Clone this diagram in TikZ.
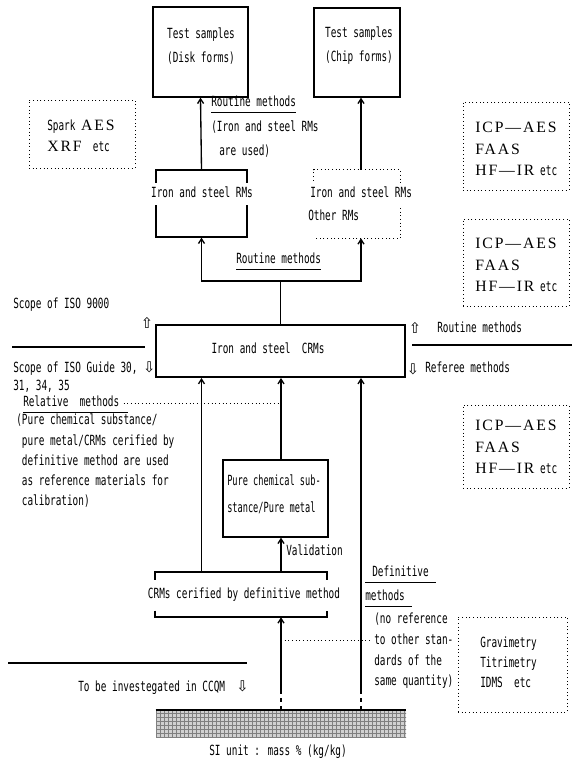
\documentclass[tikz,border=0pt]{standalone}
\usepackage{fontspec}
\usetikzlibrary{fit,patterns,arrows.meta}
\newfontfamily\smf{DejaVu Sans Mono}[FakeStretch=0.67]
\newfontfamily\bigf{Liberation Serif}[LetterSpace=12]
\newfontfamily\symf{DejaVu Sans}
\newcommand\smfont{\smf\fontsize{10.5pt}{15.2pt}\selectfont}
\newcommand\bigfont{\bigf\fontsize{11.8pt}{16.1pt}\selectfont}
\newcommand\hup{{\symf\fontsize{11pt}{12pt}\selectfont ⇧}}
\newcommand\hdn{{\symf\fontsize{11pt}{12pt}\selectfont ⇩}}
\newcommand\nrw[1]{\scalebox{0.92}[1]{#1}}
\begin{document}
\begin{tikzpicture}[x=0.75pt,y=-0.75pt,
  sm/.style={font=\smfont, inner sep=0pt, text height=8pt, text depth=2.2pt},
  smm/.style={font=\smfont, inner sep=0pt, align=left},
  bigm/.style={font=\bigfont, inner sep=0pt, align=left, anchor=west},
  bx/.style={draw, line width=1pt, inner sep=0pt},
  dbx/.style={draw, dotted, line width=0.75pt, inner sep=0pt},
  arr/.style={line width=1pt, -{Straight Barb[length=3.5pt,width=4.5pt]}},
  ln/.style={line width=1pt},
  uln/.style={line width=0.75pt},
  dsh/.style={line width=1pt, dash pattern=on 3pt off 3pt},
  dt/.style={dotted, line width=0.75pt},
  sym/.style={inner sep=0pt}
]
\useasboundingbox (0,0) rectangle (572,769);

% ---------- top test sample boxes
\node[bx, fit={(153,7) (248,97)}] (disk) {};
\node[smm, align=center, font=\smf\fontsize{10.5pt}{18pt}\selectfont] (diskt) at (201,46) {Test samples\\(Disk forms)};
\node[bx, fit={(314,8) (400,97)}] (chip) {};
\node[smm, align=center, font=\smf\fontsize{10.5pt}{18pt}\selectfont] (chipt) at (359,46) {Test samples\\(Chip forms)};

% ---------- dotted method boxes
\node[dbx, fit={(29,100) (135,168)}] (spark) {};
\node[sm, anchor=west] (spark1) at (47,127) {Spark {\bigfont AES}};
\node[sm, anchor=west] (spark2) at (47,148) {{\bigfont XRF}\ \ etc};

\node[dbx, fit={(463,102) (569,190)}] (icp1) {};
\node[bigm] (icp1t) at (475,149) {ICP—AES\\FAAS\\HF—IR {\smfont etc}};
\node[dbx, fit={(463,219) (569,306)}] (icp2) {};
\node[bigm] (icp2t) at (475,265) {ICP—AES\\FAAS\\HF—IR {\smfont etc}};
\node[dbx, fit={(463,405) (569,488)}] (icp3) {};
\node[bigm] (icp3t) at (475,447) {ICP—AES\\FAAS\\HF—IR {\smfont etc}};

\node[dbx, fit={(458,617) (567,712)}] (grav) {};
\node[smm, anchor=west, font=\smf\fontsize{10.5pt}{15pt}\selectfont] (gravt) at (480,662) {Gravimetry\\Titrimetry\\IDMS\ \ etc};

% ---------- RMs boxes
\node[bx, fit={(156,170) (247,237)}] (rmL) {};
\node[sm, fill=white, inner ysep=3pt] (rmLt) at (202,194) {Iron and steel RMs};
\node[inner sep=0pt, fit={(314,170) (400,238)}] (rmR) {};
\draw[dt] ([yshift=-11pt]rmR.north west) -- (rmR.north west) -- (rmR.north east) -- (rmR.south east) -- (rmR.south west);
\node[sm, fill=white, anchor=west, inner ysep=3pt] (rmRt1) at (310,194) {Iron and steel RMs};
\node[sm, fill=white, anchor=west, inner ysep=3pt] (rmRt2) at (308,217) {Other RMs};

\coordinate (cx) at (361,0);
\coordinate (mx) at (281,0);
\draw[arr] (rmL.north) -- (disk.south);
\draw[arr] (rmR.north -| cx) -- (chip.south -| cx);

\node[sm, anchor=west] (rt1) at (211,103) {Routine methods};
\draw[uln] ([yshift=-1.7pt]rt1.south west) -- ([yshift=-1.7pt]rt1.south east);
\node[sm, anchor=west] (iu1) at (211,128) {(Iron and steel RMs};
\node[sm, anchor=west] (iu2) at (219,152) {are used)};

% ---------- CRMs box and branch
\node[draw, line width=1.5pt, inner sep=0pt, fit={(156,325) (405,377)}] (crm) {};
\node[sm] (crmt) at (268,350) {Iron and steel\ \ CRMs};

\coordinate (br) at (281,281);
\draw[ln] (crm.north) -- (crm.north |- br);
\draw[arr] (crm.north |- br) -| (rmL.south);
\draw[arr] (crm.north |- br) -| (rmR.south -| cx);
\node[sm, anchor=west] (rt2) at (236,260) {Routine methods};
\draw[uln] ([yshift=-1.7pt]rt2.south west) -- ([yshift=-1.7pt]rt2.south east);

% ---------- scope labels
\node[sm, anchor=west] (sc1) at (13,305) {Scope of ISO 9000};
\node[sym] (sc1a) at (147,323) {\hup};
\draw[ln] (12,347) -- (145,347);
\node[sm, anchor=west] (sc2) at (13,369) {Scope of ISO Guide 30, \hdn};
\node[sm, anchor=west] (sc3) at (13,387) {31, 34, 35};

\node[sym] (rua) at (415,328) {\hup};
\node[sm, anchor=west] (rut) at (437,329) {Routine methods};
\draw[ln] (412,345) -- (572,345);
\node[sym] (rfa) at (413,369) {\hdn};
\node[sm, anchor=west] (rft) at (425,369) {Referee methods};

% ---------- relative methods
\node[sm, anchor=west] (rel) at (23,403) {Relative\ \ methods};
\draw[uln] ([yshift=-1.7pt]rel.south west) -- ([yshift=-1.7pt,xshift=6pt]rel.south east);
\node[smm, anchor=west, font=\smf\fontsize{10.5pt}{15.2pt}\selectfont] (para) at (16,461) {(Pure chemical substance/\\\ pure metal/CRMs cerified by\\\ definitive method are used\\\ as reference materials for\\\ calibration)};

% ---------- pure chemical, certified
\node[bx, fit={(223,460) (328,537)}] (pure) {};
\node[smm, anchor=west, font=\smf\fontsize{10.5pt}{20pt}\selectfont] (puret) at (227,494) {\nrw{Pure chemical sub-}\\\nrw{stance/Pure metal}};

\node[inner sep=0pt, fit={(155,572) (327,617)}] (cert) {};
\draw[line width=1.5pt] ([yshift=-6pt]cert.north west) -- (cert.north west) -- (cert.north east) -- ([yshift=-6pt]cert.north east);
\draw[line width=1.5pt] ([yshift=5pt]cert.south west) -- (cert.south west) -- (cert.south east) -- ([yshift=5pt]cert.south east);
\node[sm] (certt) at (244,595) {CRMs cerified by definitive method};

\node[sm, anchor=west] (val) at (286,552) {Validation};

% ---------- hatched SI base
\node[inner sep=0pt, fit={(156,710) (406,737)}, fill=black!18, postaction={pattern=grid, pattern color=black!50}] (si) {};
\draw[line width=1.2pt] (si.north west) -- (si.north east);
\node[sm] (sit) at (278,752) {SI unit : mass \% (kg/kg)};

% ---------- vertical connectors into CRMs
\draw[arr] (cert.north -| rmL.south) -- (crm.south -| rmL.south);
\draw[arr] (pure.north -| mx) -- (crm.south -| mx);
\coordinate (rd) at (361,692);
\draw[arr] (rd) -- (crm.south -| rd);
\draw[dsh] (si.north -| rd) -- (rd);
\draw[arr] (cert.north -| mx) -- (pure.south -| mx);
\coordinate (md) at (281,692);
\draw[arr] (md) -- (cert.south -| md);
\draw[dsh] (si.north -| md) -- (md);

% ---------- dotted pointers
\draw[dt] ([xshift=3pt]rel.east) -- (rel.east -| mx);
\coordinate (dl) at (281,640);
\coordinate (dr) at (370,640);
\draw[dt] (dl) -- (dr);

% ---------- definitive methods
\node[sm, anchor=west] (def1) at (372,573) {Definitive};
\draw[uln] ([yshift=-1.7pt,xshift=-5pt]def1.south west) -- ([yshift=-1.7pt,xshift=5pt]def1.south east);
\node[sm, anchor=west] (def2) at (365,597) {methods};
\draw[uln] ([yshift=-1.7pt]def2.south west) -- ([yshift=-1.7pt,xshift=5pt]def2.south east);
\node[smm, anchor=west, font=\smf\fontsize{10.5pt}{15.5pt}\selectfont] (defb) at (374,651) {(no reference\\to other stan-\\dards of the\\same quantity)};

% ---------- CCQM
\draw[ln] (8,663) -- (247,663);
\node[sm, anchor=west] (ccqm) at (78,688) {To be investegated in CCQM\ \ \hdn};
\end{tikzpicture}
\end{document}
